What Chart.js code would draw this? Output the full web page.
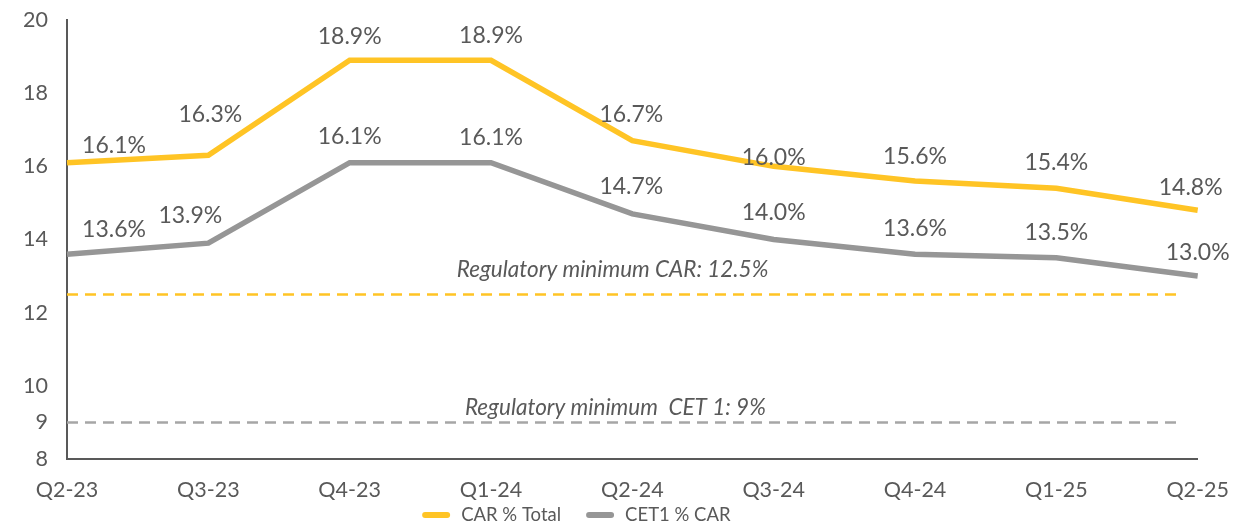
<!DOCTYPE html>
<html>
<head>
<meta charset="utf-8">
<script src="https://cdn.jsdelivr.net/npm/chart.js@4.4.1/dist/chart.umd.min.js"></script>
<style>
  html, body { margin: 0; padding: 0; background: #fff; }
  #wrap { width: 1247px; height: 525px; }
</style>
</head>
<body>
<div id="wrap"><canvas id="capital-chart"></canvas></div>
<script>
var quarters = ['Q2-23', 'Q3-23', 'Q4-23', 'Q1-24', 'Q2-24', 'Q3-24', 'Q4-24', 'Q1-25', 'Q2-25'];
var carTotal = [16.1, 16.3, 18.9, 18.9, 16.7, 16.0, 15.6, 15.4, 14.8];
var cet1Car = [13.6, 13.9, 16.1, 16.1, 14.7, 14.0, 13.6, 13.5, 13.0];
var yTicks = [8, 9, 10, 12, 14, 16, 18, 20];
var minCar = 12.5;
var minCet1 = 9;
var minCarText = 'Regulatory minimum CAR: 12.5%';
var minCet1Text = 'Regulatory minimum  CET 1: 9%';

// label nudges (px) so the percentages don't sit on the lines
var carLabelShift = [[47, -17], [2, -41], [0, -24], [0, -25], [-1, -26], [0, -9], [0, -24], [0, -26], [-7, -23]];
var cetLabelShift = [[47, -25], [-18, -28], [0, -26], [0, -25], [-1, -27], [0, -27], [0, -26], [0, -25], [0, -24]];

var FONT = 'Lato, "Open Sans", sans-serif';
var TEXT = '#595959';
var YELLOW = '#FFC425';
var GREY = '#969696';

var valueLabels = {
    id: 'valueLabels',
    afterDatasetsDraw: function (chart) {
        var ctx = chart.ctx;
        ctx.save();
        ctx.font = '23px ' + FONT;
        ctx.fillStyle = TEXT;
        ctx.textAlign = 'center';
        ctx.textBaseline = 'middle';
        [[0, carTotal, carLabelShift], [1, cet1Car, cetLabelShift]].forEach(function (s) {
            var meta = chart.getDatasetMeta(s[0]);
            meta.data.forEach(function (pt, i) {
                ctx.fillText(s[1][i].toFixed(1) + '%', pt.x + s[2][i][0], pt.y + s[2][i][1]);
            });
        });

        // captions above the regulatory minimum lines
        var x2 = chart.scales.x2, y = chart.scales.y;
        ctx.font = 'italic 22.5px ' + FONT;
        ctx.fillText(minCarText, x2.getPixelForValue(3.86), y.getPixelForValue(minCar) - 25);
        ctx.fillText(minCet1Text, x2.getPixelForValue(3.88), y.getPixelForValue(minCet1) - 15);
        ctx.restore();
    }
};

// simple line-swatch legend under the x labels (only the two series)
var bottomLegend = {
    id: 'bottomLegend',
    afterDraw: function (chart) {
        var ctx = chart.ctx, area = chart.chartArea;
        var items = chart.data.datasets.slice(0, 2);
        ctx.save();
        ctx.font = '18.5px ' + FONT;
        ctx.textBaseline = 'middle';
        var swatch = 28, gapText = 11, gapItem = 25;
        var total = 0;
        items.forEach(function (ds, i) {
            total += swatch + gapText + ctx.measureText(ds.label).width + (i ? 0 : gapItem);
        });
        var x = (area.left + area.right) / 2 - 56 - total / 2;
        var y = chart.height - 10;
        items.forEach(function (ds) {
            ctx.strokeStyle = ds.borderColor;
            ctx.lineWidth = 6;
            ctx.lineCap = 'round';
            ctx.beginPath();
            ctx.moveTo(x + 3, y);
            ctx.lineTo(x + swatch - 3, y);
            ctx.stroke();
            x += swatch + gapText;
            ctx.fillStyle = TEXT;
            ctx.fillText(ds.label, x, y);
            x += ctx.measureText(ds.label).width + gapItem;
        });
        ctx.restore();
    }
};

var chart = new Chart(document.getElementById('capital-chart'), {
    type: 'line',
    data: {
        labels: quarters,
        datasets: [
            {
                label: 'CAR % Total',
                data: carTotal,
                borderColor: YELLOW,
                backgroundColor: YELLOW,
                borderWidth: 5.5,
                pointRadius: 0,
                tension: 0
            },
            {
                label: 'CET1 % CAR',
                data: cet1Car,
                borderColor: GREY,
                backgroundColor: GREY,
                borderWidth: 5.5,
                pointRadius: 0,
                tension: 0
            },
            {
                label: 'min-car',
                xAxisID: 'x2',
                data: [{x: 0, y: minCar}, {x: 7.85, y: minCar}],
                borderColor: YELLOW,
                borderWidth: 2.5,
                borderDash: [11, 7],
                pointRadius: 0
            },
            {
                label: 'min-cet1',
                xAxisID: 'x2',
                data: [{x: 0, y: minCet1}, {x: 7.85, y: minCet1}],
                borderColor: '#A6A6A6',
                borderWidth: 2.5,
                borderDash: [11, 7],
                pointRadius: 0
            }
        ]
    },
    options: {
        responsive: true,
        maintainAspectRatio: false,
        animation: false,
        layout: { padding: { top: 20, right: 44, left: 10, bottom: 0 } },
        scales: {
            x: {
                offset: false,
                grid: { display: false, drawTicks: false },
                border: { display: true, color: TEXT, width: 2 },
                ticks: { color: TEXT, font: { family: FONT, size: 21.5 }, maxRotation: 0, padding: 18 },
                afterFit: function (scale) { scale.height = 66; }
            },
            x2: {
                type: 'linear',
                display: false,
                min: 0,
                max: 8
            },
            y: {
                min: 8,
                max: 20,
                grid: { display: false, drawTicks: false },
                border: { display: true, color: TEXT, width: 2 },
                afterBuildTicks: function (axis) {
                    axis.ticks = yTicks.map(function (v) { return { value: v }; });
                },
                ticks: { color: TEXT, font: { family: FONT, size: 21.5 }, padding: 19 },
                afterFit: function (scale) {
                    scale.width = 57;
                    scale.paddingTop = 0;
                    scale.paddingBottom = 0;
                }
            }
        },
        plugins: {
            legend: { display: false },
            tooltip: { enabled: false }
        }
    },
    plugins: [valueLabels, bottomLegend]
});
</script>
</body>
</html>
